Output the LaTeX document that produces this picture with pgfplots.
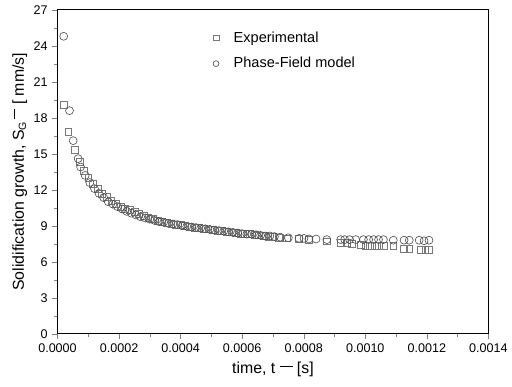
\documentclass[border=0pt]{standalone}
\usepackage{pgfplots}
\pgfplotsset{compat=1.18}
\usepackage{fontspec}
\setmainfont{Liberation Sans}
\definecolor{sqc}{RGB}{120,120,120}
\definecolor{cic}{RGB}{85,85,85}
\begin{document}
\begin{tikzpicture}
\begin{axis}[
  scale only axis,
  width=326pt, height=245pt,
  xmin=0, xmax=0.0014, ymin=0, ymax=27,
  xtick={0,0.0002,0.0004,0.0006,0.0008,0.0010,0.0012,0.0014},
  xticklabels={0.0000,0.0002,0.0004,0.0006,0.0008,0.0010,0.0012,0.0014},
  scaled x ticks=false,
  ytick={0,3,...,27},
  minor x tick num=1, minor y tick num=1,
  xtick pos=bottom, ytick pos=left,
  tick align=outside,
  major tick length=4pt, minor tick length=2.5pt,
  /pgf/number format/assume math mode=true,
  tick label style={font=\fontsize{9.5}{11}\selectfont},
  every axis label/.append style={font=\fontsize{12}{14}\selectfont},
  xlabel={time, t \rule[0.75ex]{0.8em}{0.15ex} [s]},
  ylabel={Solidification growth, S\textsubscript{G}\,\rule[1.0ex]{0.6em}{0.15ex} [ mm/s]},
  ylabel style={yshift=-2pt},
  axis line style={line width=0.7pt},
  legend style={draw=none, fill=none, at={(0.345,0.95)}, anchor=north west,
    font=\fontsize{11}{13}\selectfont, row sep=6pt},
  legend cell align=left,
  legend image code/.code={\draw[#1, mark size=2.2pt] plot coordinates {(0.15cm,0cm)}; \path[draw=none,fill=none] (0cm,0cm) -- (0.55cm,0cm);},
]
\addplot[only marks, mark=square, mark size=2.6pt, draw=sqc, line width=0.5pt] coordinates {
(0.000020,19.1) (0.000035,16.8) (0.000055,15.3) (0.000072,14.3) (0.000085,13.6)
(0.000100,13.0) (0.000115,12.5) (0.000130,12.05) (0.000145,11.7) (0.000160,11.4)
(0.000175,11.1) (0.000190,10.85) (0.000205,10.6) (0.000220,10.45) (0.000235,10.3)
(0.000250,10.15) (0.000265,10.0) (0.000280,9.85) (0.000295,9.7) (0.000310,9.55)
(0.000325,9.45) (0.000340,9.35) (0.000355,9.25) (0.000370,9.2) (0.000385,9.1)
(0.000400,9.05) (0.000415,9.0) (0.000430,8.9) (0.000445,8.85) (0.000460,8.8)
(0.000475,8.75) (0.000490,8.7) (0.000505,8.65) (0.000520,8.6) (0.000535,8.55)
(0.000550,8.5) (0.000565,8.45) (0.000580,8.4) (0.000595,8.35) (0.000610,8.3)
(0.000625,8.3) (0.000640,8.25) (0.000655,8.2) (0.000670,8.15) (0.000685,8.1)
(0.000700,8.1) (0.000720,8.0) (0.000745,7.95) (0.000785,7.9) (0.000817,7.85)
(0.000875,7.7) (0.000920,7.6) (0.000940,7.55) (0.000955,7.5) (0.000985,7.4)
(0.001000,7.35) (0.001015,7.35) (0.001030,7.3) (0.001045,7.3) (0.001060,7.3)
(0.001091,7.3) (0.001126,7.1) (0.001143,7.05) (0.001180,7.0) (0.001195,7.0)
(0.001207,7.0)
};
\addlegendentry{Experimental}
\addplot[only marks, mark=o, mark size=3pt, draw=cic, line width=0.5pt] coordinates {
(0.000020,24.8) (0.000039,18.6) (0.000051,16.1) (0.000067,14.6) (0.000075,13.9)
(0.000090,13.2) (0.000105,12.6) (0.000120,12.1) (0.000135,11.7) (0.000150,11.35)
(0.000165,11.0) (0.000180,10.8) (0.000195,10.6) (0.000210,10.4) (0.000225,10.2)
(0.000240,10.05) (0.000255,9.9) (0.000270,9.75) (0.000285,9.65) (0.000300,9.55)
(0.000315,9.45) (0.000330,9.35) (0.000345,9.3) (0.000360,9.2) (0.000375,9.15)
(0.000390,9.1) (0.000405,9.0) (0.000420,8.95) (0.000435,8.9) (0.000450,8.85)
(0.000465,8.8) (0.000480,8.75) (0.000495,8.7) (0.000510,8.65) (0.000525,8.6)
(0.000540,8.55) (0.000555,8.5) (0.000570,8.45) (0.000585,8.4) (0.000600,8.35)
(0.000615,8.3) (0.000630,8.3) (0.000645,8.25) (0.000660,8.2) (0.000675,8.15)
(0.000690,8.15) (0.000705,8.1) (0.000724,8.05) (0.000750,8.0) (0.000785,7.95)
(0.000801,7.95) (0.000817,7.9) (0.000840,7.9) (0.000875,7.85) (0.000920,7.85)
(0.000933,7.85) (0.000949,7.85) (0.000969,7.85) (0.000994,7.85) (0.001011,7.85)
(0.001027,7.85) (0.001043,7.85) (0.001059,7.85) (0.001091,7.8) (0.001126,7.8)
(0.001143,7.8) (0.001175,7.8) (0.001191,7.75) (0.001207,7.8)
};
\addlegendentry{Phase-Field model}
\end{axis}
\path ([xshift=-43.5pt,yshift=-39.75pt]current axis.south west) rectangle ([xshift=14.25pt,yshift=7.5pt]current axis.north east);
\end{tikzpicture}
\end{document}
